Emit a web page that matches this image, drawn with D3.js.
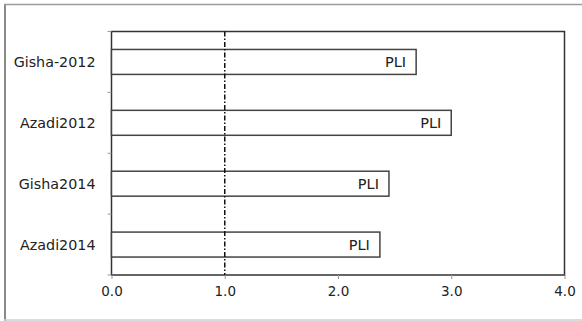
<!DOCTYPE html>
<html>
<head>
<meta charset="utf-8">
<script src="https://cdn.jsdelivr.net/npm/d3@7"></script>
<style>
  html, body { margin: 0; padding: 0; background: #fff; }
  svg { display: block; }
  text { font-family: "DejaVu Sans", Verdana, sans-serif; fill: #222; }
</style>
</head>
<body>
<svg id="chart" width="582" height="321"></svg>
<script>
const categories = ["Gisha-2012", "Azadi2012", "Gisha2014", "Azadi2014"];
const values = [2.69, 3.0, 2.45, 2.37];
const barLabel = "PLI";
const xTicks = [0, 1, 2, 3, 4];
const refValue = 1.0;

const W = 582, H = 321;
const margin = { left: 111.5, right: 17.5, top: 31.5, bottom: 46 };
const svg = d3.select("#chart");

// outer frame
svg.append("line").attr("x1", 5).attr("x2", 5).attr("y1", 4).attr("y2", 321)
  .attr("stroke", "#8a8a8a").attr("stroke-width", 2);
svg.append("line").attr("x1", 4).attr("x2", 582).attr("y1", 4.5).attr("y2", 4.5)
  .attr("stroke", "#9a9a9a").attr("stroke-width", 1.5);
svg.append("line").attr("x1", 4).attr("x2", 582).attr("y1", 320).attr("y2", 320)
  .attr("stroke", "#cfcfcf").attr("stroke-width", 1.5);

const x = d3.scaleLinear().domain([0, 4]).range([margin.left, W - margin.right]);
const y = d3.scaleBand().domain(categories)
  .range([margin.top, H - margin.bottom]).paddingInner(0.59).paddingOuter(0.295);

// plot frame
svg.append("rect")
  .attr("x", x(0)).attr("y", margin.top)
  .attr("width", x(4) - x(0)).attr("height", H - margin.bottom - margin.top)
  .attr("fill", "none").attr("stroke", "#333").attr("stroke-width", 1.5);

// bars
svg.append("g").selectAll("rect").data(categories).join("rect")
  .attr("x", x(0))
  .attr("y", d => y(d))
  .attr("width", (d, i) => x(values[i]) - x(0))
  .attr("height", y.bandwidth())
  .attr("fill", "#fff").attr("stroke", "#444").attr("stroke-width", 1.5);

// bar labels
svg.append("g").selectAll("text").data(categories).join("text")
  .attr("x", (d, i) => x(values[i]) - 10)
  .attr("y", d => y(d) + y.bandwidth() / 2)
  .attr("dy", "0.36em")
  .attr("text-anchor", "end")
  .attr("font-size", 14.5)
  .text(barLabel);

// reference line
svg.append("line")
  .attr("x1", x(refValue)).attr("x2", x(refValue))
  .attr("y1", margin.top).attr("y2", H - margin.bottom)
  .attr("stroke", "#111").attr("stroke-width", 1.5)
  .attr("stroke-dasharray", "5,2,1.5,2");

// x axis
const xAxis = d3.axisBottom(x).tickValues(xTicks).tickFormat(d3.format(".1f"))
  .tickSize(4).tickPadding(7);
const gx = svg.append("g").attr("transform", `translate(0,${H - margin.bottom})`).call(xAxis);
gx.select(".domain").remove();
gx.selectAll(".tick line").attr("stroke", "#999");
gx.selectAll(".tick text").attr("font-size", 13.5).attr("font-family", "DejaVu Sans").attr("fill", "#222");

// y axis: ticks at band boundaries, labels centered in bands
const boundaries = d3.range(categories.length + 1);
const y0 = margin.top;
svg.append("g").selectAll("line").data(boundaries).join("line")
  .attr("x1", x(0) - 4).attr("x2", x(0))
  .attr("y1", i => y0 + i * (H - margin.bottom - margin.top) / categories.length)
  .attr("y2", i => y0 + i * (H - margin.bottom - margin.top) / categories.length)
  .attr("stroke", "#999");

svg.append("g").selectAll("text").data(categories).join("text")
  .attr("x", x(0) - 16)
  .attr("y", d => y(d) + y.bandwidth() / 2)
  .attr("dy", "0.36em")
  .attr("text-anchor", "end")
  .attr("font-size", 14.3)
  .text(d => d);
</script>
</body>
</html>
